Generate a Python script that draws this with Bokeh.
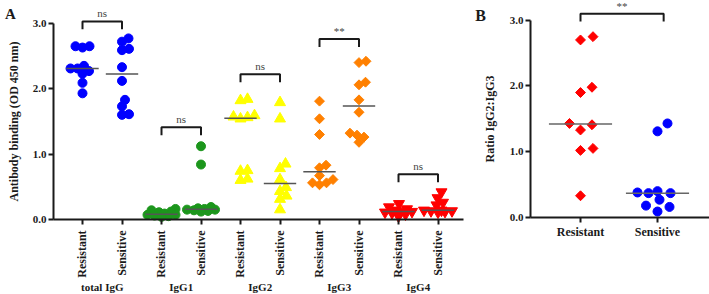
import numpy as np
from bokeh.plotting import figure
from bokeh.models import FixedTicker, LinearAxis, Range1d, Label, NumeralTickFormatter
from bokeh.layouts import row
from bokeh.embed import file_html
from bokeh.resources import INLINE

SERIF = "Liberation Serif"

isotypes = ["total IgG", "IgG1", "IgG2", "IgG3", "IgG4"]
groups = ["Resistant", "Sensitive"]

# Antibody binding (OD 450 nm), ten sera per group
total_igg_resistant = [2.63, 2.65, 2.65, 2.35, 2.31, 2.31, 2.27, 2.23, 2.09, 1.93]
total_igg_sensitive = [2.77, 2.72, 2.59, 2.61, 2.33, 2.12, 1.83, 1.73, 1.60, 1.61]
igg1_resistant = [0.16, 0.14, 0.12, 0.11, 0.09, 0.07, 0.07, 0.06, 0.05, 0.04]
igg1_sensitive = [1.12, 0.84, 0.19, 0.17, 0.16, 0.15, 0.15, 0.14, 0.13, 0.12]
igg2_resistant = [1.82, 1.84, 1.54, 1.59, 1.57, 1.56, 0.74, 0.75, 0.60, 0.62]
igg2_sensitive = [1.79, 1.54, 0.85, 0.78, 0.61, 0.49, 0.43, 0.36, 0.31, 0.15]
igg3_resistant = [1.81, 1.54, 1.30, 0.83, 0.79, 0.67, 0.61, 0.53, 0.56, 0.56]
igg3_sensitive = [2.42, 2.40, 2.06, 2.10, 1.83, 1.64, 1.32, 1.29, 1.26, 1.18]
igg4_resistant = [0.24, 0.19, 0.16, 0.14, 0.12, 0.12, 0.11, 0.10, 0.08, 0.05]
igg4_sensitive = [0.42, 0.33, 0.26, 0.22, 0.14, 0.14, 0.13, 0.13, 0.12, 0.11]

# IgG2:IgG3 ratio
ratio_resistant = [2.70, 2.75, 1.98, 1.90, 1.43, 1.41, 1.33, 1.05, 1.02, 0.33]
ratio_sensitive = [1.43, 1.31, 0.40, 0.38, 0.37, 0.37, 0.27, 0.18, 0.16, 0.09]

significance = ["ns", "ns", "ns", "**", "ns"]
ratio_significance = "**"

# bracket heights for the significance annotations
bracket_top = [3.03, 1.41, 2.22, 2.76, 0.69]
ratio_bracket_top = 3.10
bracket_leg = 0.12

series = [
    (total_igg_resistant, total_igg_sensitive, "circle", "#0000ff"),
    (igg1_resistant, igg1_sensitive, "circle", "#1c961c"),
    (igg2_resistant, igg2_sensitive, "triangle", "#ffff00"),
    (igg3_resistant, igg3_sensitive, "diamond", "#ff8000"),
    (igg4_resistant, igg4_sensitive, "inverted_triangle", "#ff0000"),
]


def swarm_offsets(values, px_x, px_y, diam, max_half):
    """Beeswarm: push each point sideways until it clears the others;
    when the column is full, take the least crowded slot."""
    vals = np.asarray(values, dtype=float)
    offs = np.zeros(len(vals))
    placed = []
    steps = [0.0]
    k = 1
    while k * 0.5 <= max_half:
        steps += [k * 0.5, -k * 0.5]
        k += 1
    for i in np.argsort(vals):
        y = vals[i] * px_y
        best, best_d = 0.0, -1.0
        for c in steps:
            d = min((np.hypot(c - px, y - py) for px, py in placed), default=1e9)
            if d >= diam:
                best = c
                break
            if d > best_d + 1e-9:
                best, best_d = c, d
        placed.append((best, y))
        offs[i] = best / px_x
    return offs


def marker_kw(kind, color):
    if kind == "diamond":
        return dict(marker="square", angle=np.pi / 4, size=7, fill_color=color, line_color=color)
    if kind == "circle":
        return dict(marker="circle", size=9, fill_color=color, line_color=color)
    return dict(marker=kind, size=11, fill_color=color, line_color=color)


def style_axis(ax, size="11px"):
    ax.axis_line_width = 2
    ax.axis_line_color = "#1a1a1a"
    ax.major_tick_line_width = 2
    ax.major_tick_line_color = "#1a1a1a"
    ax.major_tick_out = 5
    ax.major_tick_in = 0
    ax.minor_tick_line_color = None
    ax.major_label_text_font = SERIF
    ax.major_label_text_font_style = "bold"
    ax.major_label_text_font_size = size
    ax.major_label_text_color = "#1a1a1a"
    ax.axis_label_text_font = SERIF
    ax.axis_label_text_font_style = "bold"
    ax.axis_label_text_font_size = "12px"
    ax.axis_label_text_color = "#1a1a1a"


def add_bracket(p, x1, x2, top, text):
    p.line([x1, x1, x2, x2], [top - bracket_leg, top, top, top - bracket_leg],
           line_color="#1a1a1a", line_width=2)
    p.add_layout(Label(x=(x1 + x2) / 2, y=top, text=text, text_align="center",
                       text_baseline="bottom", y_offset=2, text_font=SERIF,
                       text_font_size="11px", text_color="#444444"))


def panel_letter(p, x, y, text, size):
    p.add_layout(Label(x=x, y=y, text=text, text_align="center", text_baseline="middle",
                       text_font=SERIF, text_font_style="bold", text_font_size=size,
                       text_color="#1a1a1a"))


# The plot frames fill each panel completely; the axes are pinned at fixed
# data locations so that tick labels, axis titles and panel letters all sit
# inside the frame.

# ---------------- Panel A: antibody binding by isotype ----------------
PX_A_X, PX_A_Y = 39.5, 65.3
A_X0, A_X1 = 1 - 82 / PX_A_X, 1 + 388 / PX_A_X
A_Y0, A_Y1 = -75 / PX_A_Y, 3.35
A_AXIS_X, A_AXIS_END = 1 - 29 / PX_A_X, 10.65
pA = figure(width=470, height=294, x_range=Range1d(A_X0, A_X1), y_range=Range1d(A_Y0, A_Y1),
            toolbar_location=None, output_backend="svg", x_axis_type=None, y_axis_type=None,
            min_border=0)
pA.outline_line_color = None

ya = LinearAxis(ticker=FixedTicker(ticks=[0, 1, 2, 3]), formatter=NumeralTickFormatter(format="0.0"),
                bounds=(0, 3), axis_label="Antibody binding (OD 450 nm)", fixed_location=A_AXIS_X)
style_axis(ya)
ya.major_label_standoff = 2
ya.axis_label_standoff = 9
pA.add_layout(ya, "left")

positions = list(range(1, 2 * len(isotypes) + 1))
xa = LinearAxis(ticker=FixedTicker(ticks=positions), bounds=(A_AXIS_X, A_AXIS_END), fixed_location=0,
                major_label_overrides={pos: groups[(pos - 1) % 2] for pos in positions})
style_axis(xa, "12px")
xa.major_label_orientation = np.pi / 2
xa.major_label_standoff = 6
pA.add_layout(xa, "below")

centers = [2 * i + 1.5 for i in range(len(isotypes))]
xg = LinearAxis(ticker=FixedTicker(ticks=centers), fixed_location=0,
                major_label_overrides={c: name for c, name in zip(centers, isotypes)})
style_axis(xg)
xg.axis_line_color = None
xg.major_tick_line_color = None
xg.major_tick_out = 0
xg.major_label_standoff = 62
pA.add_layout(xg, "below")

for i, (res, sen, kind, color) in enumerate(series):
    for j, vals in enumerate((res, sen)):
        pos = 2 * i + 1 + j
        xs = pos + swarm_offsets(vals, PX_A_X, PX_A_Y, 7.0, 14.0)
        pA.scatter(xs, vals, **marker_kw(kind, color))
        med = float(np.median(vals))
        pA.segment(x0=[pos - 0.41], x1=[pos + 0.41], y0=[med], y1=[med],
                   line_color="#555555", line_width=1.5)
    add_bracket(pA, 2 * i + 1, 2 * i + 2, bracket_top[i], significance[i])

panel_letter(pA, A_X0 + 10 / PX_A_X, A_Y1 - 13 / PX_A_Y, "A", "15px")

# ---------------- Panel B: IgG2:IgG3 ratio ----------------
PX_B_X, PX_B_Y = 77.0, 65.7
B_X0, B_X1 = 1 - 110 / PX_B_X, 1 + 129 / PX_B_X
B_Y0, B_Y1 = -77 / PX_B_Y, 3.30
B_AXIS_X = 1 - 50 / PX_B_X
pB = figure(width=239, height=294, x_range=Range1d(B_X0, B_X1), y_range=Range1d(B_Y0, B_Y1),
            toolbar_location=None, output_backend="svg", x_axis_type=None, y_axis_type=None,
            min_border=0)
pB.outline_line_color = None

yb = LinearAxis(ticker=FixedTicker(ticks=[0, 1, 2, 3]), formatter=NumeralTickFormatter(format="0.0"),
                bounds=(0, 3), axis_label="Ratio IgG2:IgG3", fixed_location=B_AXIS_X)
style_axis(yb)
yb.major_label_standoff = 2
yb.axis_label_standoff = 10
pB.add_layout(yb, "left")

xb = LinearAxis(ticker=FixedTicker(ticks=[1, 2]), bounds=(B_AXIS_X, B_X1), fixed_location=0,
                major_label_overrides={1: groups[0], 2: groups[1]})
style_axis(xb, "12px")
xb.major_label_standoff = 3
pB.add_layout(xb, "below")

for j, (vals, kind, color) in enumerate(((ratio_resistant, "diamond", "#ff0000"),
                                        (ratio_sensitive, "circle", "#0000ff"))):
    pos = j + 1
    xs = pos + swarm_offsets(vals, PX_B_X, PX_B_Y, 12.5, 20.0)
    pB.scatter(xs, vals, **marker_kw(kind, color))
    med = float(np.median(vals))
    pB.segment(x0=[pos - 0.41], x1=[pos + 0.41], y0=[med], y1=[med],
               line_color="#666666", line_width=1.5)
add_bracket(pB, 1, 2.08, ratio_bracket_top, ratio_significance)

panel_letter(pB, B_X0 + 10 / PX_B_X, B_Y1 - 15 / PX_B_Y, "B", "16px")

layout = row(pA, pB)
open("out.html", "w").write(file_html(layout, INLINE))
